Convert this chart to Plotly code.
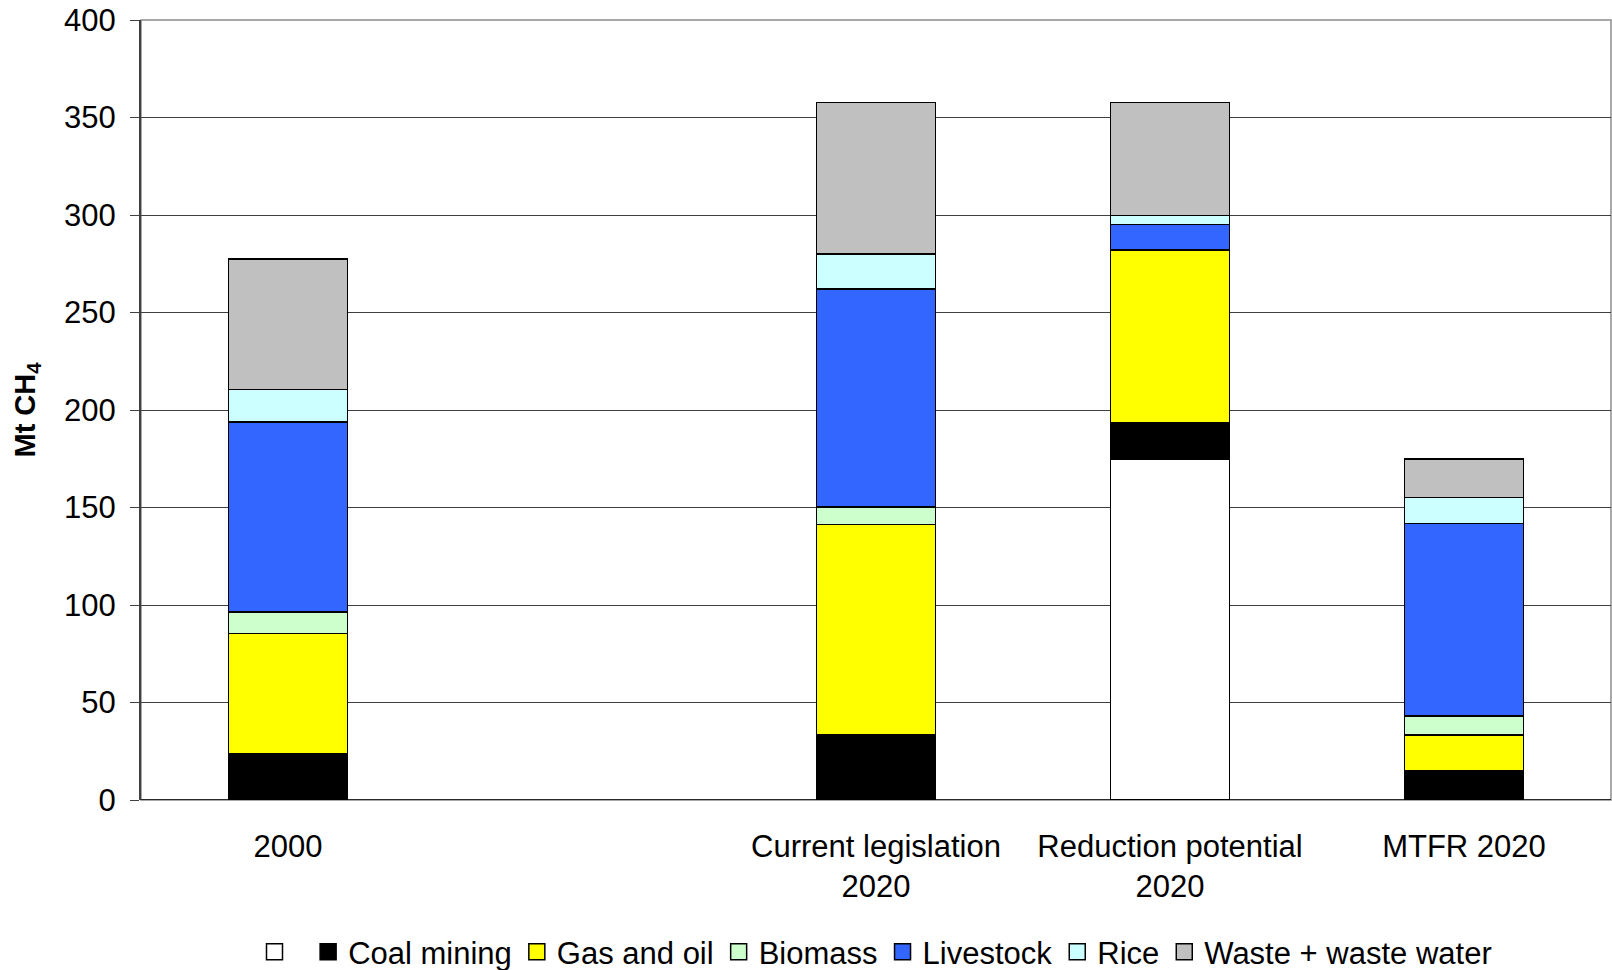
import plotly.graph_objects as go

# Methane emissions by source, Mt CH4
categories = ["2000", "", "Current legislation<br>2020", "Reduction potential<br>2020", "MTFR 2020"]
positions = [0, 2, 3, 4]          # slot 1 is left empty on purpose

base        = [0.0, 0.0, 174.8, 0.0]   # white offset under the reduction bar
coal_mining = [23.5, 33.5, 18.5, 15.0]
gas_and_oil = [61.9, 107.7, 88.8, 18.4]
biomass     = [11.0, 9.1, 0.0, 9.8]
livestock   = [97.4, 111.8, 13.1, 98.6]
rice        = [16.8, 17.9, 4.5, 13.3]
waste       = [66.8, 77.6, 58.0, 19.7]

series = [
    (" ", base, "#FFFFFF"),
    ("Coal mining", coal_mining, "#000000"),
    ("Gas and oil", gas_and_oil, "#FFFF00"),
    ("Biomass", biomass, "#CCFFCC"),
    ("Livestock", livestock, "#3366FF"),
    ("Rice", rice, "#CCFFFF"),
    ("Waste + waste water", waste, "#C0C0C0"),
]

fig = go.Figure()
for name, vals, color in series:
    fig.add_trace(go.Bar(
        x=positions, y=vals, name=name, width=0.405, showlegend=False,
        marker=dict(color=color, line=dict(color="#000000", width=1.5)),
    ))

# legend keys: larger outlined squares
for name, vals, color in series:
    fig.add_trace(go.Scatter(
        x=[None], y=[None], mode="markers", name=name,
        marker=dict(symbol="square", size=20, color=color,
                    line=dict(color="#000000", width=1.5)),
    ))

font = "Liberation Sans, Arial, sans-serif"
fig.update_layout(
    barmode="stack",
    width=1612, height=970,
    margin=dict(l=141, r=1, t=20, b=170, autoexpand=False),
    paper_bgcolor="white", plot_bgcolor="white",
    font=dict(family=font, size=31, color="#000000"),
    showlegend=True,
    legend=dict(
        orientation="h", x=0.5, xanchor="center", y=-0.195, yanchor="middle",
        font=dict(size=31), itemwidth=30, itemsizing="trace", traceorder="normal",
        itemclick=False, itemdoubleclick=False, tracegroupgap=0,
    ),
    xaxis=dict(
        range=[-0.5, 4.5], tickmode="array",
        tickvals=list(range(len(categories))), ticktext=categories,
        showgrid=False, zeroline=False, ticks="", showline=False,
        ticklabelstandoff=25,
    ),
    yaxis=dict(
        range=[0, 400], dtick=50, tick0=0,
        showgrid=True, gridcolor="#404040", gridwidth=1,
        zeroline=False, showline=True, linecolor="#404040", linewidth=2,
        ticks="outside", ticklen=9, tickcolor="#404040", tickwidth=1,
        ticklabelstandoff=8,
        title=dict(text="<b>Mt CH<sub>4</sub></b>", font=dict(size=29), standoff=20),
    ),
)

# plot area frame and black baseline
fig.add_shape(type="rect", xref="paper", yref="paper", x0=0, y0=0, x1=1, y1=1,
              line=dict(color="#8C8C8C", width=1.5), layer="below")
fig.add_shape(type="line", xref="paper", yref="y", x0=0, x1=1, y0=0, y1=0,
              line=dict(color="#000000", width=1.5))

fig.write_html("out.html")
